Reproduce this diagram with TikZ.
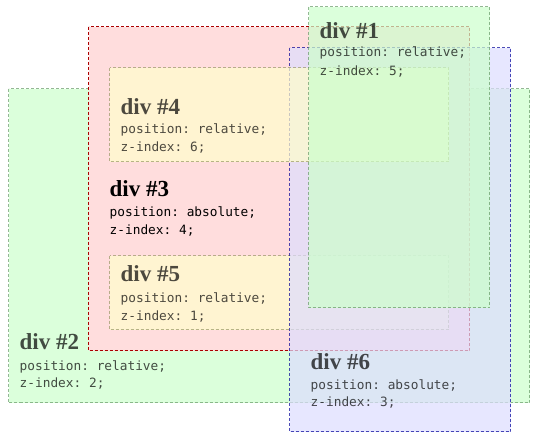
\documentclass[tikz,border=0pt]{standalone}
\usepackage{fontspec}
\setmainfont{Liberation Serif}
\setmonofont{DejaVu Sans Mono}
\definecolor{greenbg}{HTML}{CCFFCC}
\definecolor{greenline}{HTML}{669966}
\definecolor{redbg}{HTML}{FFDDDD}
\definecolor{redline}{HTML}{AA0000}
\definecolor{yellowbg}{HTML}{FFFFCC}
\definecolor{yellowline}{HTML}{999966}
\definecolor{bluebg}{HTML}{DDDDFF}
\definecolor{blueline}{HTML}{000099}
\begin{document}
\begin{tikzpicture}[x=1pt,y=-1pt,
  divbox/.style={line width=1pt,dash pattern=on 3pt off 2pt,opacity=0.7},
  title/.style={anchor=base west,inner sep=0pt,text opacity=0.7,font=\fontsize{23}{23}\selectfont\bfseries},
  code/.style={anchor=base west,inner sep=0pt,text opacity=0.7,font=\fontsize{12.8}{15}\selectfont\ttfamily}]

\useasboundingbox (0,0) rectangle (538,437);

% div #2
\draw[divbox,fill=greenbg,draw=greenline] (8.5,88.5) rectangle (529.5,402.5);
\node[title] (t2) at (19.5,349.3) {div \#2};
\node[code] (p2) at (19.5,370) {position: relative;};
\node[code] (z2) at (19.5,387.7) {z-index: 2;};

% div #3 (with #4, #5, #6 inside)
\draw[divbox,opacity=1,fill=redbg,draw=redline] (88.5,26.5) rectangle (469.5,350.5);
\node[title,text opacity=1] (t3) at (109.5,196.7) {div \#3};
\node[code,text opacity=1] (p3) at (109.5,216.7) {position: absolute;};
\node[code,text opacity=1] (z3) at (109.5,234.3) {z-index: 4;};

% div #5
\draw[divbox,fill=yellowbg,draw=yellowline] (109.5,255.5) rectangle (448.5,329.5);
\node[title] (t5) at (120.5,281.7) {div \#5};
\node[code] (p5) at (120.5,302.3) {position: relative;};
\node[code] (z5) at (120.5,320) {z-index: 1;};

% div #6
\draw[divbox,fill=bluebg,draw=blueline] (289.5,47.5) rectangle (510.5,431.5);
\node[title] (t6) at (310.5,369) {div \#6};
\node[code] (p6) at (310.5,389) {position: absolute;};
\node[code] (z6) at (310.5,406.7) {z-index: 3;};

% div #4
\draw[divbox,fill=yellowbg,draw=yellowline] (109.5,67.5) rectangle (448.5,161.5);
\node[title] (t4) at (120.5,114.3) {div \#4};
\node[code] (p4) at (120.5,133.3) {position: relative;};
\node[code] (z4) at (120.5,151.7) {z-index: 6;};

% div #1
\draw[divbox,fill=greenbg,draw=greenline] (308.5,6.5) rectangle (489.5,307.5);
\node[title] (t1) at (319.5,38) {div \#1};
\node[code] (p1) at (319.5,56.7) {position: relative;};
\node[code] (z1) at (319.5,75) {z-index: 5;};

\end{tikzpicture}
\end{document}
